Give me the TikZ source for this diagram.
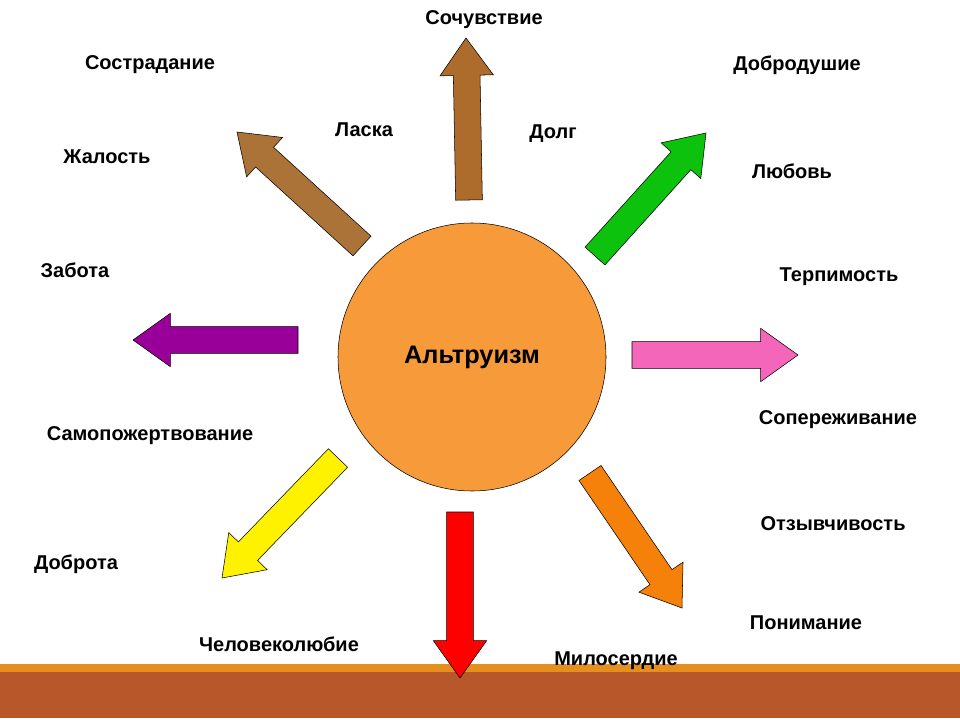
\documentclass[tikz,border=0pt]{standalone}
\usepackage{fontspec}
\setmainfont{Liberation Sans}
\usetikzlibrary{calc}

\definecolor{sunorange}{HTML}{F79A3A}
\definecolor{bandorange}{HTML}{E5901E}
\definecolor{bandbrown}{HTML}{B8582A}

\tikzset{
	word/.style={font=\bfseries\fontsize{15}{18}\selectfont,inner sep=0pt},
	arr/.style={draw=black,line width=0.4pt,line join=miter}
}

% block arrow from #2 (tail) to #3 (tip)
\newcommand{\blockarrow}[3]{%
	\draw[arr,fill=#1] ($(#2)!10pt!90:(#3)$) -- ($($(#3)!28pt!(#2)$)!10pt!-90:(#2)$)
		-- ($($(#3)!28pt!(#2)$)!20pt!-90:(#2)$) -- (#3)
		-- ($($(#3)!28pt!(#2)$)!20pt!90:(#2)$) -- ($($(#3)!28pt!(#2)$)!10pt!90:(#2)$)
		-- ($(#2)!10pt!-90:(#3)$) -- cycle;}

\begin{document}
\begin{tikzpicture}[x=0.75pt,y=-0.75pt]
	\useasboundingbox (0,0) rectangle (960,720);
	\fill[white] (0,0) rectangle (960,720);
	% ground band
	\fill[bandorange] (0,664) rectangle (960,673);
	\fill[bandbrown] (0,672) rectangle (960,718);

	\node[circle,draw=black,fill=sunorange,minimum size=201pt,inner sep=0pt] (sun) at (472,357) {};
	\node[word,font=\bfseries\fontsize{19}{22}\selectfont] (alt) at (472,357) {Альтруизм};

	% arrow tails and tips
	\coordinate (nT) at (469,200); \coordinate (nH) at (466,38);
	\coordinate (nwT) at (362,246); \coordinate (nwH) at (237,132);
	\coordinate (neT) at (595,256); \coordinate (neH) at (706,133);
	\coordinate (wT) at (298,340); \coordinate (wH) at (133,340);
	\coordinate (eT) at (632,355); \coordinate (eH) at (798,355);
	\coordinate (swT) at (338,458); \coordinate (swH) at (222,578);
	\coordinate (sT) at (460,512); \coordinate (sH) at (460,678);
	\coordinate (seT) at (590,473); \coordinate (seH) at (682,608);

	\blockarrow{brown!80!orange!85!black}{nT}{nH}
	\blockarrow{brown!90!black}{nwT}{nwH}
	\blockarrow{green!75!black!95}{neT}{neH}
	\blockarrow{violet!80!magenta}{wT}{wH}
	\blockarrow{magenta!60}{eT}{eH}
	\blockarrow{yellow}{swT}{swH}
	\blockarrow{red}{sT}{sH}
	\blockarrow{orange!85!brown}{seT}{seH}

	\node[word] (w1) at (484,20) {Сочувствие};
	\node[word] (w2) at (150,65) {Сострадание};
	\node[word] (w3) at (797,65) {Добродушие};
	\node[word] (w4) at (364,130) {Ласка};
	\node[word] (w5) at (553,134) {Долг};
	\node[word] (w6) at (107,157) {Жалость};
	\node[word] (w7) at (792,171) {Любовь};
	\node[word] (w8) at (75,270) {Забота};
	\node[word] (w9) at (839,277) {Терпимость};
	\node[word] (w10) at (838,420) {Сопереживание};
	\node[word] (w11) at (150,436) {Самопожертвование};
	\node[word] (w12) at (833,524) {Отзывчивость};
	\node[word] (w13) at (76,564) {Доброта};
	\node[word] (w14) at (806,623) {Понимание};
	\node[word] (w15) at (279,644) {Человеколюбие};
	\node[word] (w16) at (616,661) {Милосердие};
\end{tikzpicture}
\end{document}
